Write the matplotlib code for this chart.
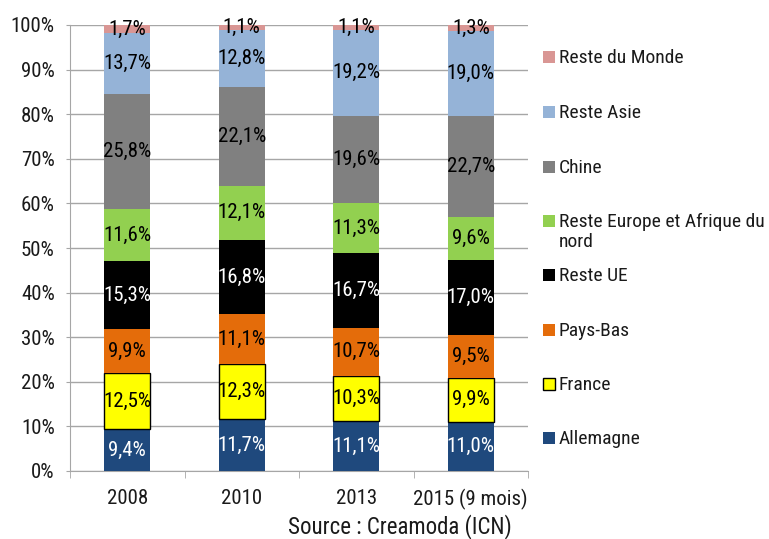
import matplotlib
matplotlib.use("Agg")
import matplotlib.pyplot as plt
from matplotlib.patches import Rectangle
import numpy as np

plt.rcParams['font.family'] = ['Roboto Condensed', 'Liberation Sans', 'DejaVu Sans']

categories = ["2008", "2010", "2013", "2015 (9 mois)"]
series_names = ["Allemagne", "France", "Pays-Bas", "Reste UE",
                "Reste Europe et Afrique du\nnord", "Chine", "Reste Asie", "Reste du Monde"]
allemagne = [9.4, 11.7, 11.1, 11.0]
france = [12.5, 12.3, 10.3, 9.9]
pays_bas = [9.9, 11.1, 10.7, 9.5]
reste_ue = [15.3, 16.8, 16.7, 17.0]
reste_europe = [11.6, 12.1, 11.3, 9.6]
chine = [25.8, 22.1, 19.6, 22.7]
reste_asie = [13.7, 12.8, 19.2, 19.0]
reste_monde = [1.7, 1.1, 1.1, 1.3]
yticks = [0, 10, 20, 30, 40, 50, 60, 70, 80, 90, 100]

series = [allemagne, france, pays_bas, reste_ue, reste_europe, chine, reste_asie, reste_monde]
colors = ["#1F497D", "#FFFF00", "#E46C0A", "#000000", "#92D050", "#808080", "#95B3D7", "#D99694"]
edges = [None, "#000000", None, None, None, None, None, None]
text_colors = ["white", "black", "black", "white", "black", "black", "black", "black"]

W, H = 769, 539
fig = plt.figure(figsize=(W / 100, H / 100), dpi=100)
ax = fig.add_axes([70 / W, 1 - 471 / H, (528 - 70) / W, (471 - 25) / H])

x = np.arange(len(categories))
bottom = np.zeros(len(categories))
fs = 15
for vals, col, ec, tc in zip(series, colors, edges, text_colors):
    v = np.array(vals)
    ax.bar(x, v, width=0.4, bottom=bottom, color=col,
           edgecolor=ec if ec else col, linewidth=1.0 if ec else 0, zorder=3)
    for xi, b, val in zip(x, bottom, v):
        ax.text(xi, b + val / 2, f"{val:.1f}".replace(".", ",") + "%",
                ha="center", va="center", color=tc, fontsize=fs, zorder=4)
    bottom = bottom + v

ax.set_xlim(-0.5, len(categories) - 0.5)
ax.set_ylim(0, 100)
ax.set_yticks(yticks)
ax.set_yticklabels([f"{t}%" for t in yticks], fontsize=fs)
ax.yaxis.grid(True, color="#A6A6A6", linewidth=1, zorder=0)
ax.tick_params(axis="y", length=3, color="#A6A6A6", pad=8, labelcolor="#1a1a1a")
ax.set_xticks(x)
ax.set_xticklabels(categories, fontsize=fs)
ax.set_xticks(np.arange(len(categories) + 1) - 0.5, minor=True)
ax.tick_params(axis="x", which="major", length=0, pad=13, labelcolor="#1a1a1a")
ax.tick_params(axis="x", which="minor", length=5, color="#A6A6A6")
for s in ["top", "right"]:
    ax.spines[s].set_visible(False)
for s in ["left", "bottom"]:
    ax.spines[s].set_color("#A6A6A6")

# legend (manual, top to bottom)
ys = [57, 112, 167, 221, 275, 330, 384, 438]
for i, (name, col, ec) in enumerate(zip(series_names[::-1], colors[::-1], edges[::-1])):
    yc = ys[i]
    fig.patches.append(Rectangle((543 / W, 1 - (yc + 6) / H), 12 / W, 12 / H,
                                 transform=fig.transFigure, facecolor=col,
                                 edgecolor=ec if ec else col, linewidth=1 if ec else 0))
    fig.text(559 / W, 1 - (yc - 8) / H, name, ha="left", va="top", fontsize=14,
             color="#1a1a1a", linespacing=1.15)

fig.text(512 / W, 1 - 527 / H, "Source : Creamoda (ICN)", ha="right", va="center",
         fontsize=16.5, color="#1a1a1a")

fig.savefig("out.png", dpi=100)
